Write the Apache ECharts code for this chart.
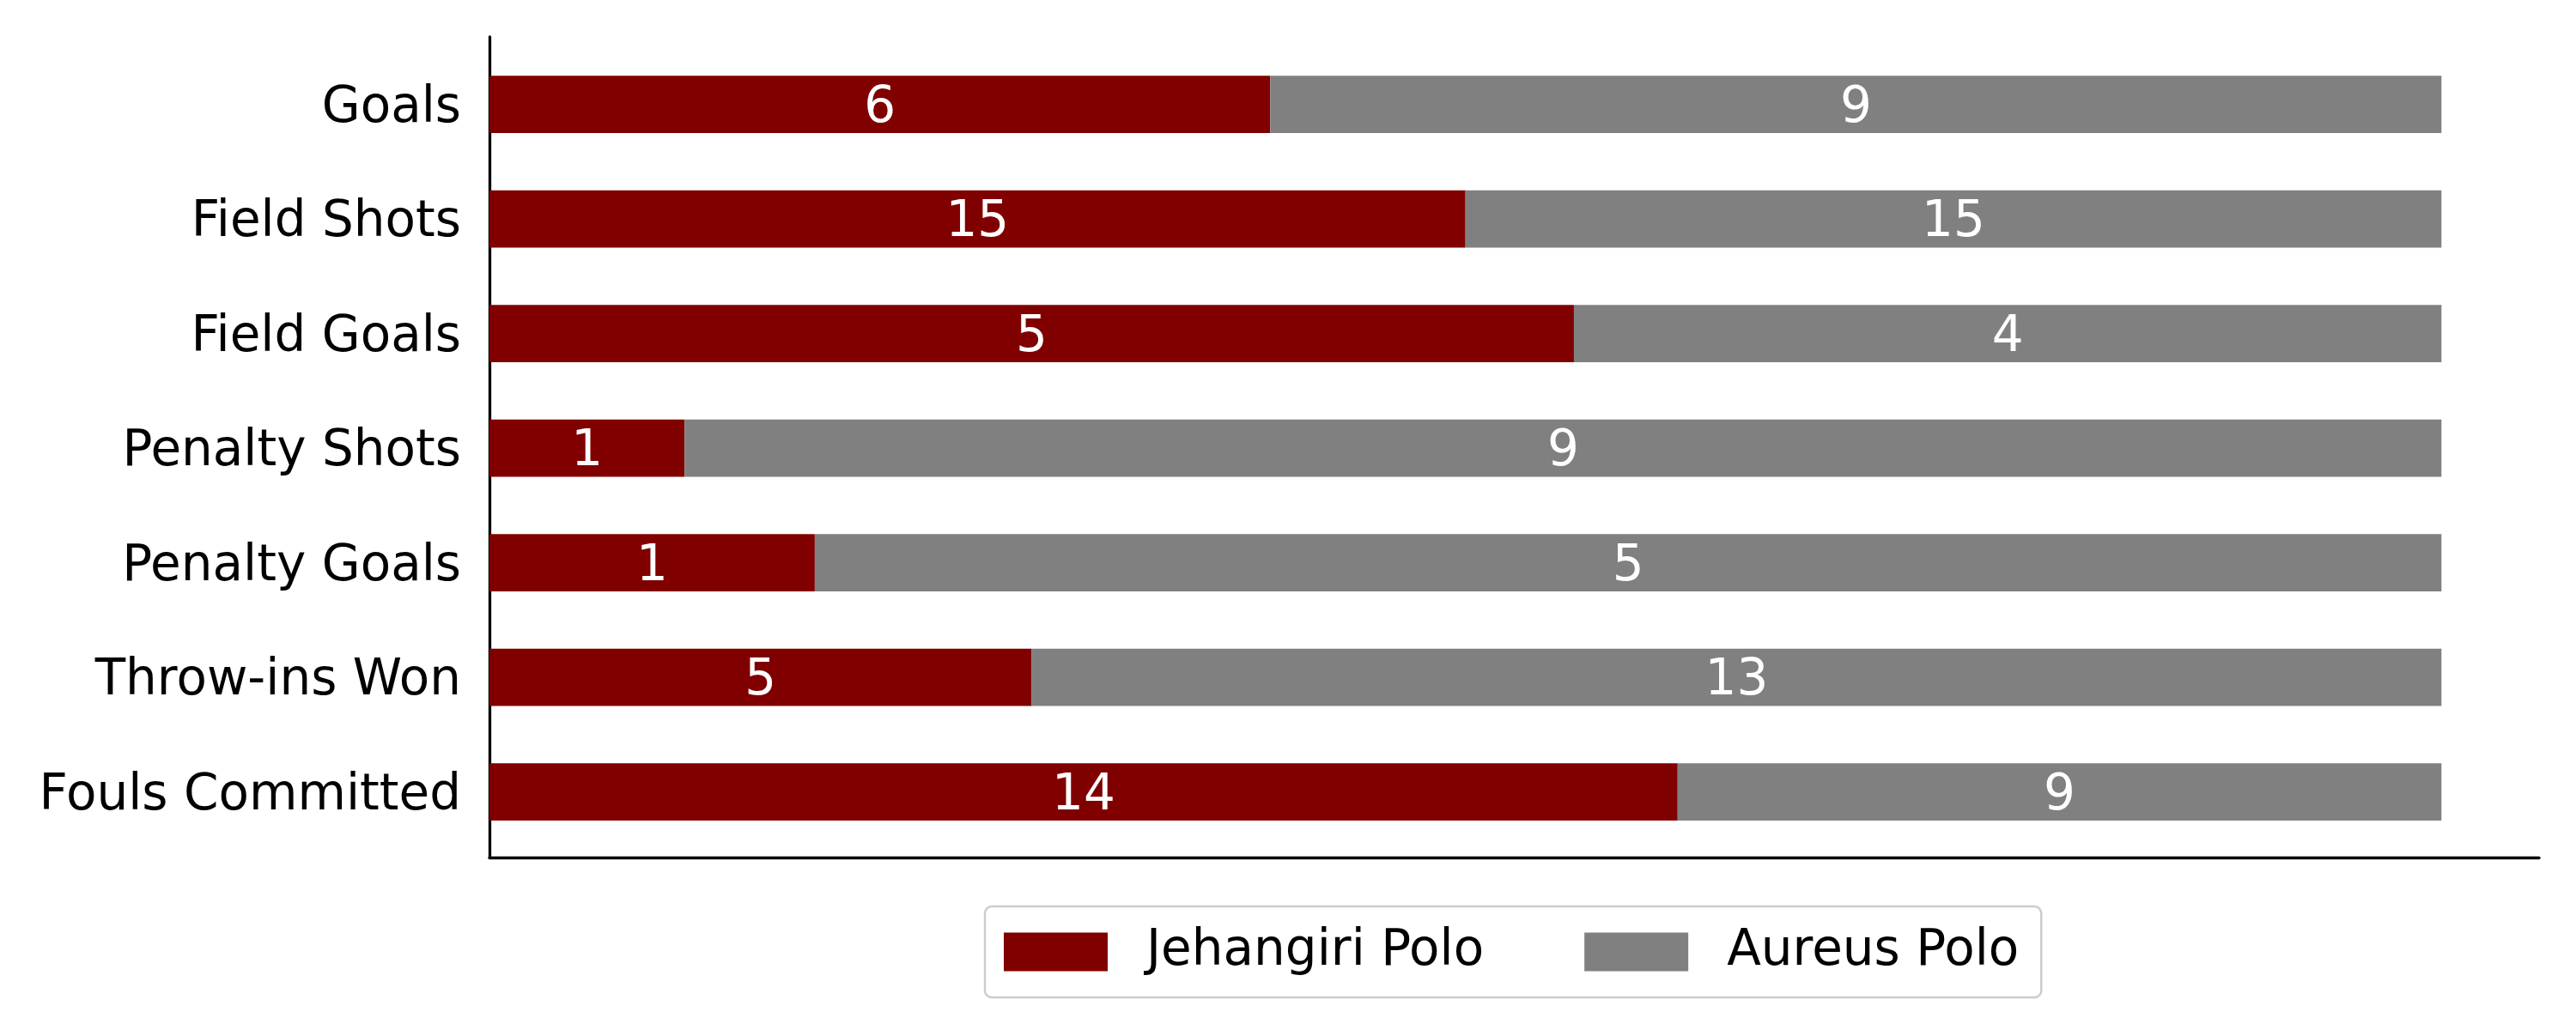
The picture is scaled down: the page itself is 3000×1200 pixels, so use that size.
<!DOCTYPE html>
<html>
<head>
<meta charset="utf-8">
<script src="https://cdn.jsdelivr.net/npm/echarts@6/dist/echarts.min.js"></script>
<style>
html,body{margin:0;padding:0;background:#fff;}
#chart{width:3000px;height:1200px;}
</style>
</head>
<body>
<div id="chart"></div>
<script>
const categories = ['Goals', 'Field Shots', 'Field Goals', 'Penalty Shots', 'Penalty Goals', 'Throw-ins Won', 'Fouls Committed'];
const jehangiri = [6, 15, 5, 1, 1, 5, 14];
const aureus = [9, 15, 4, 9, 5, 13, 9];
const seriesNames = ['Jehangiri Polo', 'Aureus Polo'];

const jShare = jehangiri.map((v, i) => v / (v + aureus[i]) * 100);
const aShare = aureus.map((v, i) => v / (jehangiri[i] + v) * 100);

const FONT = 'DejaVu Sans';
const chart = echarts.init(document.getElementById('chart'), null, {renderer: 'canvas'});

const labelStyle = (raw) => ({
  show: true,
  position: 'inside',
  offset: [0, 5],
  color: '#ffffff',
  fontFamily: FONT,
  fontSize: 58,
  formatter: (p) => String(raw[p.dataIndex])
});

chart.setOption({
  animation: false,
  backgroundColor: '#ffffff',
  textStyle: {fontFamily: FONT},
  grid: [
    {left: 570, right: 43, top: 54.75, bottom: 210.75, containLabel: false},
    {left: 570, right: 43, top: 43, bottom: 201, containLabel: false}
  ],
  xAxis: [
    {
      gridIndex: 0, type: 'value', min: 0, max: 105,
      axisLine: {show: false}, axisTick: {show: false},
      axisLabel: {show: false}, splitLine: {show: false}
    },
    {
      gridIndex: 1, type: 'value', min: 0, max: 1,
      axisLine: {show: true, lineStyle: {color: '#000000', width: 3.3}},
      axisTick: {show: false}, axisLabel: {show: false}, splitLine: {show: false}
    }
  ],
  yAxis: [
    {
      gridIndex: 0, type: 'category', data: categories, inverse: true,
      axisLine: {show: false}, axisTick: {show: false}, splitLine: {show: false},
      axisLabel: {
        show: true, color: '#000000', fontFamily: FONT, fontSize: 58, margin: 33,
        formatter: (v) => '{t|' + v + '}',
        rich: {
          t: {color: '#000000', fontFamily: FONT, fontSize: 58, padding: [10, 0, 0, 0]}
        }
      }
    },
    {
      gridIndex: 1, type: 'value', min: 0, max: 1,
      axisLine: {show: true, onZero: false, lineStyle: {color: '#000000', width: 3.3}},
      axisTick: {show: false}, axisLabel: {show: false}, splitLine: {show: false}
    }
  ],
  legend: {
    data: seriesNames,
    left: 1147,
    top: 1056,
    orient: 'horizontal',
    icon: 'rect',
    itemWidth: 121,
    itemHeight: 45,
    itemGap: 117,
    padding: [24, 26, 24, 22],
    borderColor: '#cccccc',
    borderWidth: 2.5,
    borderRadius: 8,
    backgroundColor: '#ffffff',
    textStyle: {
      color: '#000000', fontFamily: FONT, fontSize: 58, lineHeight: 58,
      padding: [0, 0, 0, 40]
    }
  },
  series: [
    {
      name: seriesNames[0], type: 'bar', stack: 'total',
      xAxisIndex: 0, yAxisIndex: 0,
      data: jShare, barWidth: '50%',
      itemStyle: {color: '#800000'},
      label: labelStyle(jehangiri)
    },
    {
      name: seriesNames[1], type: 'bar', stack: 'total',
      xAxisIndex: 0, yAxisIndex: 0,
      data: aShare, barWidth: '50%',
      itemStyle: {color: '#808080'},
      label: labelStyle(aureus)
    }
  ]
});
</script>
</body>
</html>
